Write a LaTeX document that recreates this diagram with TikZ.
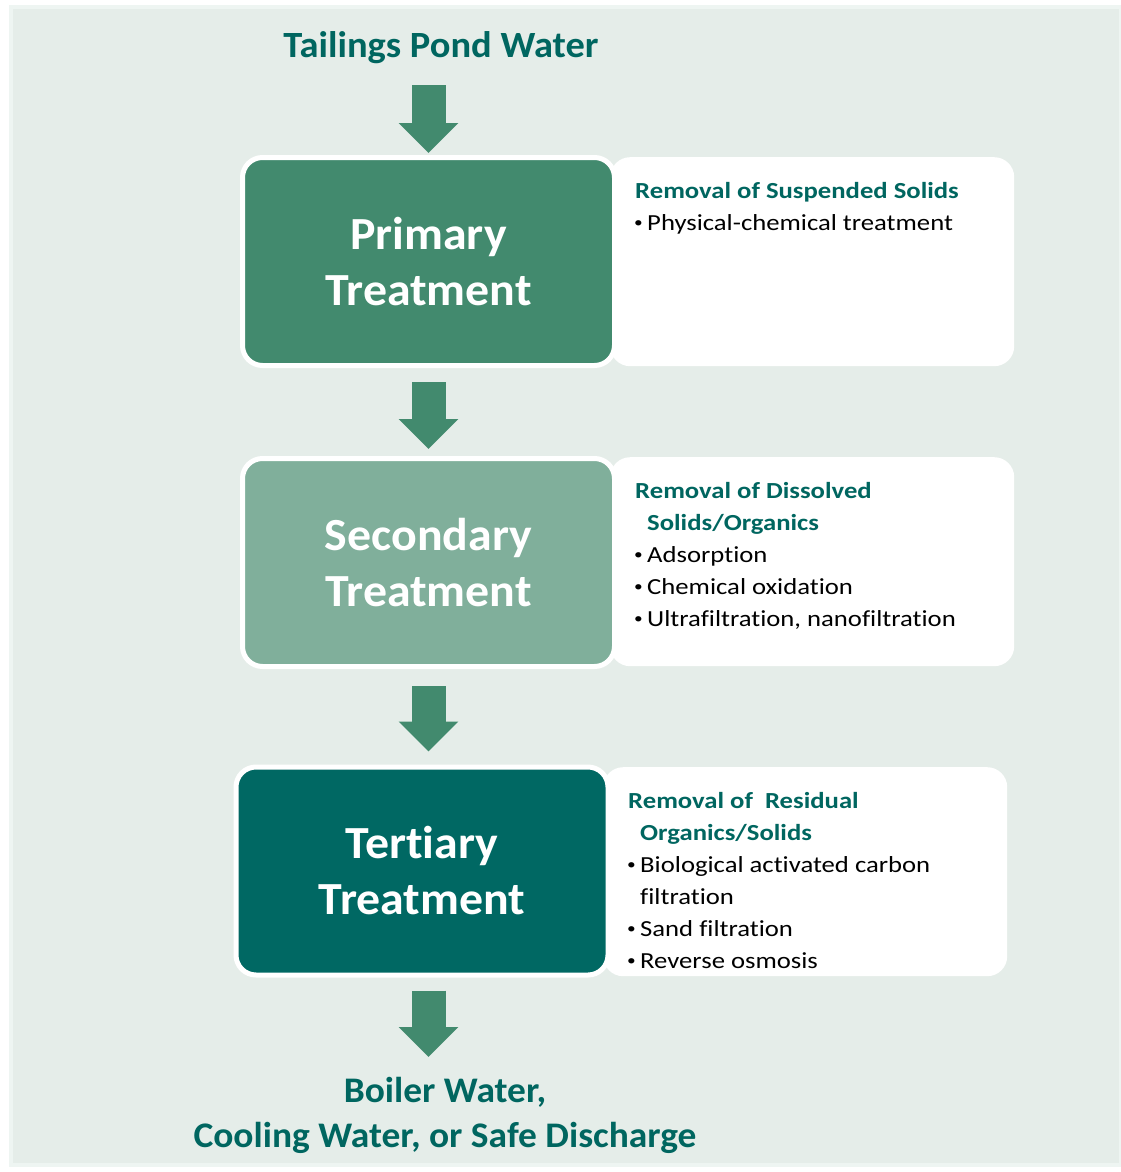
\documentclass[tikz,border=0pt]{standalone}
\usepackage{fontspec}
\setmainfont{Carlito}[Ligatures=NoCommon]
\newfontfamily\infofont{Carlito}[FakeStretch=1.16,Ligatures=NoCommon]
\newfontfamily\headfont{Carlito}[FakeStretch=1.04,Ligatures=NoCommon]
\usetikzlibrary{arrows.meta}
\usetikzlibrary{calc}

\definecolor{pondteal}{RGB}{0,102,96}
\definecolor{stagegreen}{RGB}{66,138,110}
\definecolor{stagelight}{RGB}{128,175,155}
\definecolor{stagedark}{RGB}{0,104,99}
\definecolor{panelbg}{RGB}{229,237,233}
\definecolor{paneledge}{RGB}{238,245,242}

\newcommand\infohead[1]{\hangindent=12pt\hangafter=1{\color{pondteal}\bfseries #1}\par}
\newcommand\infoitem[1]{\hangindent=12pt\hangafter=1%
  \makebox[12pt][l]{\hspace{-1pt}\raisebox{3pt}{\fontsize{15}{15}\selectfont\textbullet}}#1\par}
\newcommand\infotext[1]{\parbox[c][159pt][t]{354pt}{\raggedright #1}}

\tikzset{
  stage/.style={rectangle, rounded corners=20pt, draw=white, line width=5pt,
    minimum width=372pt, minimum height=208pt, text=white, align=center,
    font=\headfont\fontsize{46}{56}\selectfont\bfseries},
  infobox/.style={rectangle, rounded corners=20pt, fill=white, anchor=north west,
    inner xsep=25pt, inner ysep=25pt, font=\infofont\fontsize{23}{32}\selectfont},
  flow/.style={draw=stagegreen, line width=34pt, -{Triangle[width=58pt,length=30pt]}},
  flowtext/.style={text=pondteal, inner sep=0pt, align=center,
    font=\headfont\fontsize{37}{45}\selectfont\bfseries}
}

\begin{document}
\begin{tikzpicture}[x=1pt,y=-1pt]
  \useasboundingbox (0,0) rectangle (1121,1172);
  \fill[panelbg, draw=paneledge, line width=4pt] (11,7) rectangle (1121,1165);

  % descriptions behind the stages
  \node[infobox] (primaryinfo) at (610,157) {\infotext{%
      \infohead{Removal of Suspended Solids}
      \infoitem{Physical-chemical treatment}}};
  \node[infobox] (secondaryinfo) at (610,457) {\infotext{%
      \infohead{Removal of Dissolved\newline Solids/Organics}
      \infoitem{Adsorption}
      \infoitem{Chemical oxidation}
      \infoitem{Ultrafiltration, nanofiltration}}};
  \node[infobox] (tertiaryinfo) at (603,767) {\infotext{%
      \infohead{Removal of~ Residual\newline Organics/Solids}
      \infoitem{Biological activated carbon\newline filtration}
      \infoitem{Sand filtration}
      \infoitem{Reverse osmosis}}};

  % stages
  \node[stage, fill=stagegreen] (primary) at (428.5,261.5) {Primary\\Treatment};
  \node[stage, fill=stagelight] (secondary) at (428.5,562.5) {Secondary\\Treatment};
  \node[stage, fill=stagedark] (tertiary) at (422,871) {Tertiary\\Treatment};

  \node[flowtext, anchor=base] (pond) at (441,57) {Tailings Pond Water};
  \node[flowtext, font=\headfont\fontsize{36}{45}\selectfont\bfseries, anchor=north] (result) at (445,1077)
    {Boiler Water,\\Cooling Water, or Safe Discharge};

  % flow arrows
  \draw[flow, shorten <=22pt, shorten >=2pt] (pond.south -| primary.north) -- (primary.north);
  \draw[flow, shorten <=14pt, shorten >=7pt] (primary.south) -- (secondary.north);
  \draw[flow, shorten <=17pt, shorten >=13pt] (secondary.south) -- (secondary.south |- tertiary.north);
  \draw[flow, shorten <=13pt, shorten >=20pt] (tertiary.south -| secondary.south) -- (secondary.south |- result.north);
\end{tikzpicture}
\end{document}
